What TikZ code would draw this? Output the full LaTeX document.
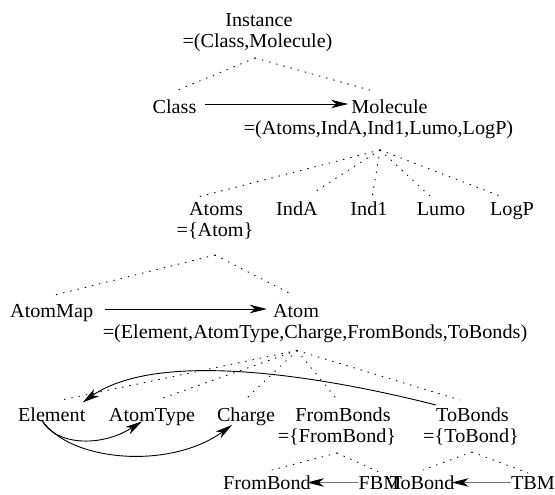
\documentclass[tikz,border=0pt]{standalone}
\usepackage{fontspec}
\setmainfont{Liberation Serif}[FakeStretch=1.02]
\usetikzlibrary{arrows.meta,calc}
\begin{document}
\begin{tikzpicture}[x=1pt,y=-1pt,
  lbl/.style={inner sep=0pt,anchor=base,font=\fontsize{19.8}{22}\selectfont},
  dot/.style={line width=0.9pt,dash pattern=on 0.9pt off 6.5pt,line cap=round},
  arr/.style={line width=0.9pt,-{Stealth[length=17pt,width=8.5pt,inset=5pt]}},
  garr/.style={line width=0.9pt,black!55,-{Stealth[length=17pt,width=8.5pt,inset=5pt,black]}}]
\useasboundingbox (0,0) rectangle (555,495);
% nodes
\node[lbl] (inst) at (259,26.5) {Instance};
\node[lbl] (inst2) at (257.5,48) {=(Class,Molecule)};
\node[lbl] (class) at (174.5,113.5) {Class};
\node[lbl] (mol) at (389.5,113.5) {Molecule};
\node[lbl] (mol2) at (378.5,135) {=(Atoms,IndA,Ind1,Lumo,LogP)};
\node[lbl] (atoms) at (216,215) {Atoms};
\node[lbl] (atoms2) at (215,236) {=\{Atom\}};
\node[lbl] (inda) at (297,215) {IndA};
\node[lbl] (ind1) at (369,215) {Ind1};
\node[lbl] (lumo) at (441,215) {Lumo};
\node[lbl] (logp) at (512,215) {LogP};
\node[lbl] (atommap) at (51.7,317) {AtomMap};
\node[lbl] (atom) at (296,317) {Atom};
\node[lbl] (atom2) at (315,338) {=(Element,AtomType,Charge,FromBonds,ToBonds)};
\node[lbl] (element) at (51.7,421) {Element};
\node[lbl] (atomtype) at (152,421) {AtomType};
\node[lbl] (charge) at (246,421) {Charge};
\node[lbl] (frombonds) at (343,421) {FromBonds};
\node[lbl] (frombonds2) at (337,442) {=\{FromBond\}};
\node[lbl] (tobonds) at (472.5,421) {ToBonds};
\node[lbl] (tobonds2) at (471,442) {=\{ToBond\}};
\node[lbl] (frombond) at (267,489) {FromBond};
\node[lbl] (fbm) at (380,489) {FBM};
\node[lbl] (tobond) at (422,489) {ToBond};
\node[lbl] (tbm) at (533,489) {TBM};
% apex coordinates
\coordinate (apI) at ($(inst2.base)+(-2.5,10)$);
\coordinate (apM) at ($(mol2.base)+(1.5,15)$);
\coordinate (apA) at ($(atoms2.base)+(0,19)$);
\coordinate (apT) at ($(atom2.base)+(-18,12.5)$);
\coordinate (apF) at ($(frombonds2.base)+(0,11)$);
\coordinate (apB) at ($(tobonds2.base)+(1,10)$);
% dotted tree lines
\draw[dot] (apI) -- ($(class.base)+(3.5,-23.5)$);
\draw[dot] (apI) -- ($(mol.base)+(-16.5,-22.5)$);
\draw[dot] (apM) -- ($(atoms.base)+(-18,-18)$);
\draw[dot] (apM) -- ($(inda.base)+(16,-22)$);
\draw[dot] (apM) -- ($(ind1.base)+(3,-17)$);
\draw[dot] (apM) -- ($(lumo.base)+(-11,-19)$);
\draw[dot] (apM) -- ($(logp.base)+(-12,-19)$);
\draw[dot] (apA) -- ($(atommap.base)+(3.3,-22)$);
\draw[dot] (apA) -- ($(atom.base)+(-3,-22)$);
\draw[dot] (apT) -- ($(element.base)+(10,-21)$);
\draw[dot] (apT) -- ($(atomtype.base)+(11,-23)$);
\draw[dot] (apT) -- ($(charge.base)+(2,-24)$);
\draw[dot] (apT) -- ($(frombonds.base)+(-8,-24)$);
\draw[dot] (apT) -- ($(tobonds.base)+(-12.5,-21)$);
\draw[dot] (apF) -- ($(frombond.base)+(5,-19)$);
\draw[dot] (apF) -- ($(fbm.base)+(-2,-17.5)$);
\draw[dot] (apB) -- ($(tobond.base)+(1,-19)$);
\draw[dot] (apB) -- ($(tbm.base)+(-5,-16)$);
% arrows
\draw[arr] ($(class.base east)+(8,-9.5)$) -- ($(mol.base west)+(-3,-9.5)$);
\draw[arr] ($(atommap.base east)+(11.5,-8)$) -- ($(atom.base west)+(-6,-8)$);
\draw[garr] ($(fbm.base west)+(0,-6.5)$) -- ($(frombond.base east)+(-4,-6.5)$);
\draw[garr] ($(tbm.base west)+(0,-6.5)$) -- ($(tobond.base east)+(-3,-6.5)$);
% curved arrows
\draw[arr] ($(tobonds.base west)+(0,-16)$) .. controls (330,378) and (160,348) .. ($(element.base east)+(-3,-18.5)$);
\draw[arr] ($(element.base)+(-10,-1)$) .. controls (55,445) and (100,448) .. ($(atomtype.base)+(-10,0.5)$);
\draw[arr] ($(element.base)+(-10,-1)$) .. controls (70,462) and (170,470) .. ($(charge.base)+(-14,4)$);
\end{tikzpicture}
\end{document}
